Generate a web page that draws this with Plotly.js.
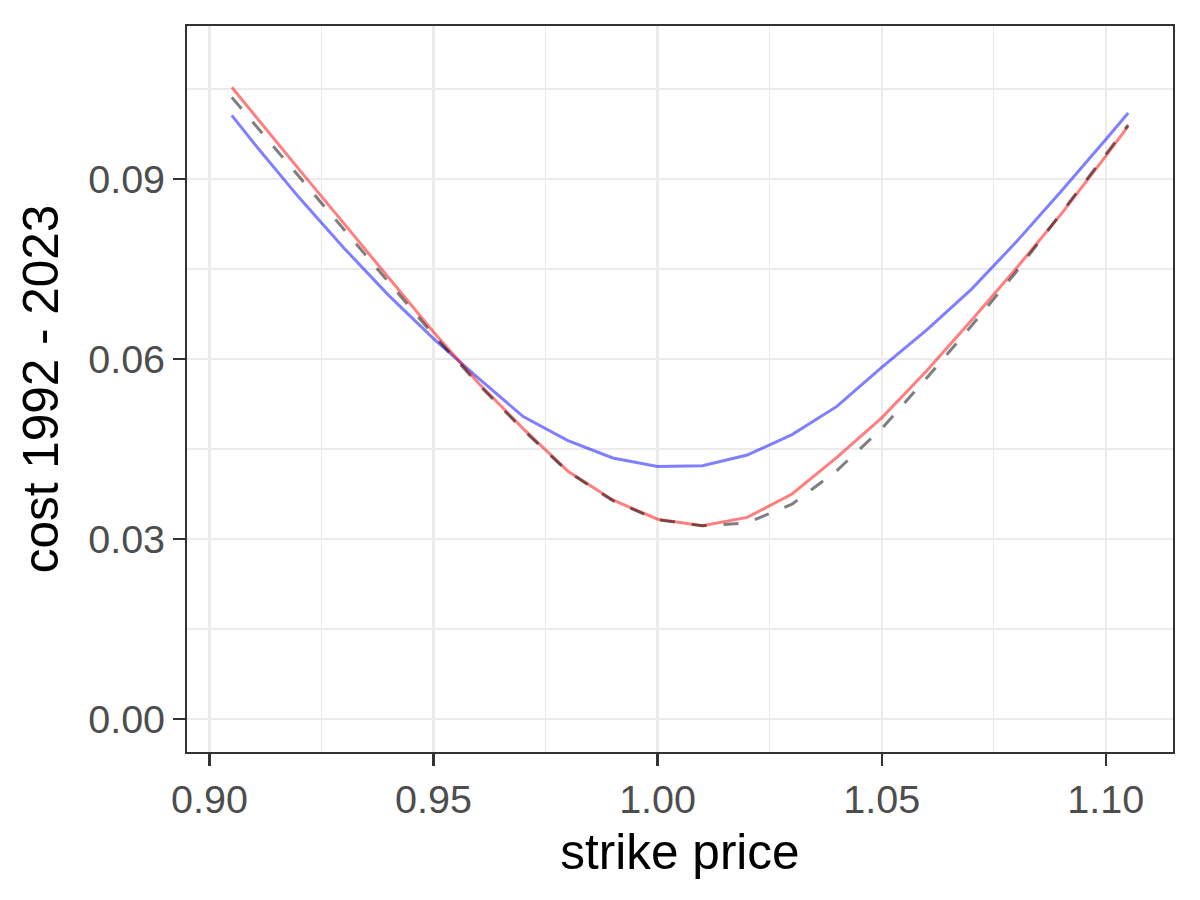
<!DOCTYPE html>
<html>
<head>
<meta charset="utf-8">
<script src="https://cdn.plot.ly/plotly-3.0.1.min.js"></script>
<style>
  html, body { margin: 0; padding: 0; background: #ffffff; }
  #chart { width: 1200px; height: 900px; }
</style>
</head>
<body>
<div id="chart"></div>
<script>
// strike prices
const strike = [0.905, 0.91, 0.92, 0.93, 0.94, 0.95, 0.96, 0.97, 0.98, 0.99, 1.00,
                1.01, 1.02, 1.03, 1.04, 1.05, 1.06, 1.07, 1.08, 1.09, 1.10, 1.105];

// blue series
const costBlue = [0.1006, 0.0959, 0.0869, 0.0785, 0.0706, 0.0634, 0.0568, 0.0504, 0.0464, 0.0435, 0.0421,
                  0.0422, 0.0440, 0.0474, 0.0521, 0.0586, 0.0648, 0.0716, 0.0795, 0.0879, 0.0966, 0.1010];

// red series
const costRed = [0.1053, 0.1007, 0.0916, 0.0826, 0.0735, 0.0645, 0.0560, 0.0484, 0.0413, 0.0365, 0.0333,
                 0.0322, 0.0336, 0.0375, 0.0436, 0.0502, 0.0580, 0.0664, 0.0751, 0.0841, 0.0938, 0.0988];

// dashed grey series
const costGrey = [0.1036, 0.0992, 0.0903, 0.0815, 0.0727, 0.0640, 0.0558, 0.0482, 0.0412, 0.0364, 0.0332,
                  0.0322, 0.0327, 0.0358, 0.0414, 0.0484, 0.0568, 0.0655, 0.0745, 0.0843, 0.0943, 0.0990];

const xTicks = [0.90, 0.95, 1.00, 1.05, 1.10];
const xTickLabels = ["0.90", "0.95", "1.00", "1.05", "1.10"];
const yTicks = [0.00, 0.03, 0.06, 0.09];
const yTickLabels = ["0.00", "0.03", "0.06", "0.09"];

const FONT = "Liberation Sans, Arial, Helvetica, sans-serif";

const traces = [
  { x: strike, y: costBlue, type: "scatter", mode: "lines",
    line: { color: "rgba(0,0,255,0.5)", width: 3 }, hoverinfo: "skip" },
  { x: strike, y: costRed, type: "scatter", mode: "lines",
    line: { color: "rgba(255,0,0,0.5)", width: 3 }, hoverinfo: "skip" },
  { x: strike, y: costGrey, type: "scatter", mode: "lines",
    line: { color: "rgba(0,0,0,0.5)", width: 3, dash: "15px,17px" }, hoverinfo: "skip" }
];

const layout = {
  width: 1200, height: 900,
  showlegend: false,
  paper_bgcolor: "#ffffff",
  plot_bgcolor: "#ffffff",
  margin: { l: 187, r: 27, t: 26, b: 148, pad: 0 },
  font: { family: FONT, color: "#4d4d4d" },
  xaxis: {
    range: [0.895, 1.115],
    tickmode: "array", tickvals: xTicks, ticktext: xTickLabels,
    ticks: "outside", ticklen: 12, tickwidth: 2.2, tickcolor: "#333333",
    tickfont: { family: FONT, size: 39.5, color: "#4d4d4d" },
    showgrid: true, gridcolor: "#ebebeb", gridwidth: 2.2,
    minor: { dtick: 0.025, tick0: 0.9, showgrid: true, gridcolor: "#ebebeb", gridwidth: 1.1, ticks: "" },
    showline: true, linecolor: "#333333", linewidth: 2, mirror: true,
    zeroline: false,
    title: { text: "strike price", font: { family: FONT, size: 49.5, color: "#000000" }, standoff: 14 }
  },
  yaxis: {
    range: [-0.0055, 0.1155],
    tickmode: "array", tickvals: yTicks, ticktext: yTickLabels,
    ticks: "outside", ticklen: 12, tickwidth: 2.2, tickcolor: "#333333",
    tickfont: { family: FONT, size: 39.5, color: "#4d4d4d" },
    showgrid: true, gridcolor: "#ebebeb", gridwidth: 2.2,
    minor: { dtick: 0.015, tick0: 0, showgrid: true, gridcolor: "#ebebeb", gridwidth: 1.1, ticks: "" },
    showline: true, linecolor: "#333333", linewidth: 2, mirror: true,
    zeroline: false,
    title: { text: "cost 1992 - 2023", font: { family: FONT, size: 49.5, color: "#000000" }, standoff: 14 }
  }
};

Plotly.newPlot("chart", traces, layout, { staticPlot: true, displayModeBar: false });
</script>
</body>
</html>
